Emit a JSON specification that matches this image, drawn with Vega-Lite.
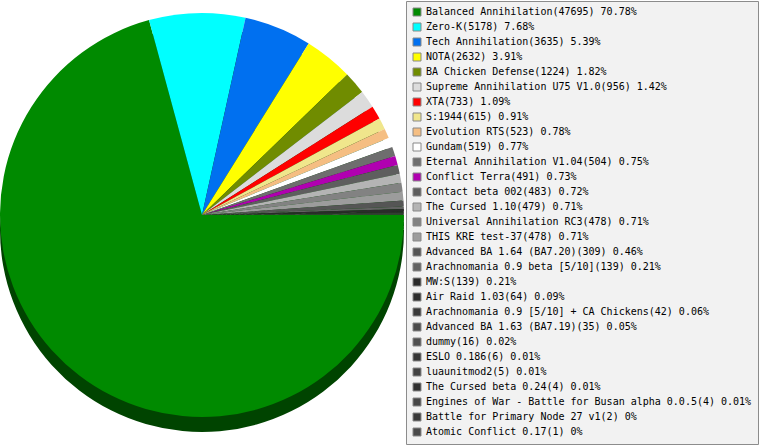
{
  "$schema": "https://vega.github.io/schema/vega-lite/v6.json",
  "width": 404,
  "height": 428,
  "padding": {"left": 0, "top": 0, "right": 0, "bottom": 0},
  "background": "white",
  "data": {
    "values": [
      {"rank": 1, "label": "Balanced Annihilation(47695) 70.78%", "count": 47695},
      {"rank": 2, "label": "Zero-K(5178) 7.68%", "count": 5178},
      {"rank": 3, "label": "Tech Annihilation(3635) 5.39%", "count": 3635},
      {"rank": 4, "label": "NOTA(2632) 3.91%", "count": 2632},
      {"rank": 5, "label": "BA Chicken Defense(1224) 1.82%", "count": 1224},
      {"rank": 6, "label": "Supreme Annihilation U75 V1.0(956) 1.42%", "count": 956},
      {"rank": 7, "label": "XTA(733) 1.09%", "count": 733},
      {"rank": 8, "label": "S:1944(615) 0.91%", "count": 615},
      {"rank": 9, "label": "Evolution RTS(523) 0.78%", "count": 523},
      {"rank": 10, "label": "Gundam(519) 0.77%", "count": 519},
      {"rank": 11, "label": "Eternal Annihilation V1.04(504) 0.75%", "count": 504},
      {"rank": 12, "label": "Conflict Terra(491) 0.73%", "count": 491},
      {"rank": 13, "label": "Contact beta 002(483) 0.72%", "count": 483},
      {"rank": 14, "label": "The Cursed 1.10(479) 0.71%", "count": 479},
      {"rank": 15, "label": "Universal Annihilation RC3(478) 0.71%", "count": 478},
      {"rank": 16, "label": "THIS KRE test-37(478) 0.71%", "count": 478},
      {"rank": 17, "label": "Advanced BA 1.64 (BA7.20)(309) 0.46%", "count": 309},
      {"rank": 18, "label": "Arachnomania 0.9 beta [5/10](139) 0.21%", "count": 139},
      {"rank": 19, "label": "MW:S(139) 0.21%", "count": 139},
      {"rank": 20, "label": "Air Raid 1.03(64) 0.09%", "count": 64},
      {"rank": 21, "label": "Arachnomania 0.9 [5/10] + CA Chickens(42) 0.06%", "count": 42},
      {"rank": 22, "label": "Advanced BA 1.63 (BA7.19)(35) 0.05%", "count": 35},
      {"rank": 23, "label": "dummy(16) 0.02%", "count": 16},
      {"rank": 24, "label": "ESLO 0.186(6) 0.01%", "count": 6},
      {"rank": 25, "label": "luaunitmod2(5) 0.01%", "count": 5},
      {"rank": 26, "label": "The Cursed beta 0.24(4) 0.01%", "count": 4},
      {"rank": 27, "label": "Engines of War - Battle for Busan alpha 0.0.5(4) 0.01%", "count": 4},
      {"rank": 28, "label": "Battle for Primary Node 27 v1(2) 0%", "count": 2},
      {"rank": 29, "label": "Atomic Conflict 0.17(1) 0%", "count": 1}
    ]
  },
  "layer": [
    {
      "mark": {"type": "arc", "outerRadius": 202, "yOffset": 15, "color": "#004400"},
      "encoding": {
        "theta": {"field": "count", "type": "quantitative", "stack": true, "scale": {"range": [1.5708, 7.854]}},
        "order": {"field": "rank", "type": "quantitative"}
      }
    },
    {
      "mark": {"type": "arc", "outerRadius": 202},
      "encoding": {
        "theta": {"field": "count", "type": "quantitative", "stack": true, "scale": {"range": [1.5708, 7.854]}},
        "order": {"field": "rank", "type": "quantitative"},
        "color": {
          "field": "label",
          "type": "nominal",
          "sort": {"field": "rank"},
          "scale": {
            "domain": [
              "Balanced Annihilation(47695) 70.78%",
              "Zero-K(5178) 7.68%",
              "Tech Annihilation(3635) 5.39%",
              "NOTA(2632) 3.91%",
              "BA Chicken Defense(1224) 1.82%",
              "Supreme Annihilation U75 V1.0(956) 1.42%",
              "XTA(733) 1.09%",
              "S:1944(615) 0.91%",
              "Evolution RTS(523) 0.78%",
              "Gundam(519) 0.77%",
              "Eternal Annihilation V1.04(504) 0.75%",
              "Conflict Terra(491) 0.73%",
              "Contact beta 002(483) 0.72%",
              "The Cursed 1.10(479) 0.71%",
              "Universal Annihilation RC3(478) 0.71%",
              "THIS KRE test-37(478) 0.71%",
              "Advanced BA 1.64 (BA7.20)(309) 0.46%",
              "Arachnomania 0.9 beta [5/10](139) 0.21%",
              "MW:S(139) 0.21%",
              "Air Raid 1.03(64) 0.09%",
              "Arachnomania 0.9 [5/10] + CA Chickens(42) 0.06%",
              "Advanced BA 1.63 (BA7.19)(35) 0.05%",
              "dummy(16) 0.02%",
              "ESLO 0.186(6) 0.01%",
              "luaunitmod2(5) 0.01%",
              "The Cursed beta 0.24(4) 0.01%",
              "Engines of War - Battle for Busan alpha 0.0.5(4) 0.01%",
              "Battle for Primary Node 27 v1(2) 0%",
              "Atomic Conflict 0.17(1) 0%"
            ],
            "range": [
              "#008a00", "#00ffff", "#0070f0", "#ffff00", "#708c00", "#dcdcdc", "#ff0000", "#f0e68c", "#f5be82", "#ffffff",
              "#6e6e6e", "#b000b0", "#5e5e5e", "#b4b4b4", "#828282", "#9c9c9c", "#555555", "#626262", "#2b2b2b", "#2e2e2e",
              "#3a3a3a", "#4a4a4a", "#505050", "#353535", "#424242", "#303030", "#474747", "#383838", "#4a4a4a"
            ]
          },
          "legend": {
            "title": null,
            "orient": "right",
            "offset": 2,
            "padding": 6,
            "fillColor": "#f2f2f2",
            "strokeColor": "#8c8c8c",
            "symbolType": "square",
            "symbolSize": 64,
            "symbolStrokeColor": "#888888",
            "symbolStrokeWidth": 1,
            "symbolOpacity": 1,
            "labelFont": "DejaVu Sans Mono",
            "labelFontSize": 10,
            "labelColor": "#000000",
            "labelLimit": 400,
            "labelOffset": 4,
            "rowPadding": 3,
            "symbolLimit": 0
          }
        }
      }
    }
  ],
  "config": {"view": {"stroke": null}}
}
